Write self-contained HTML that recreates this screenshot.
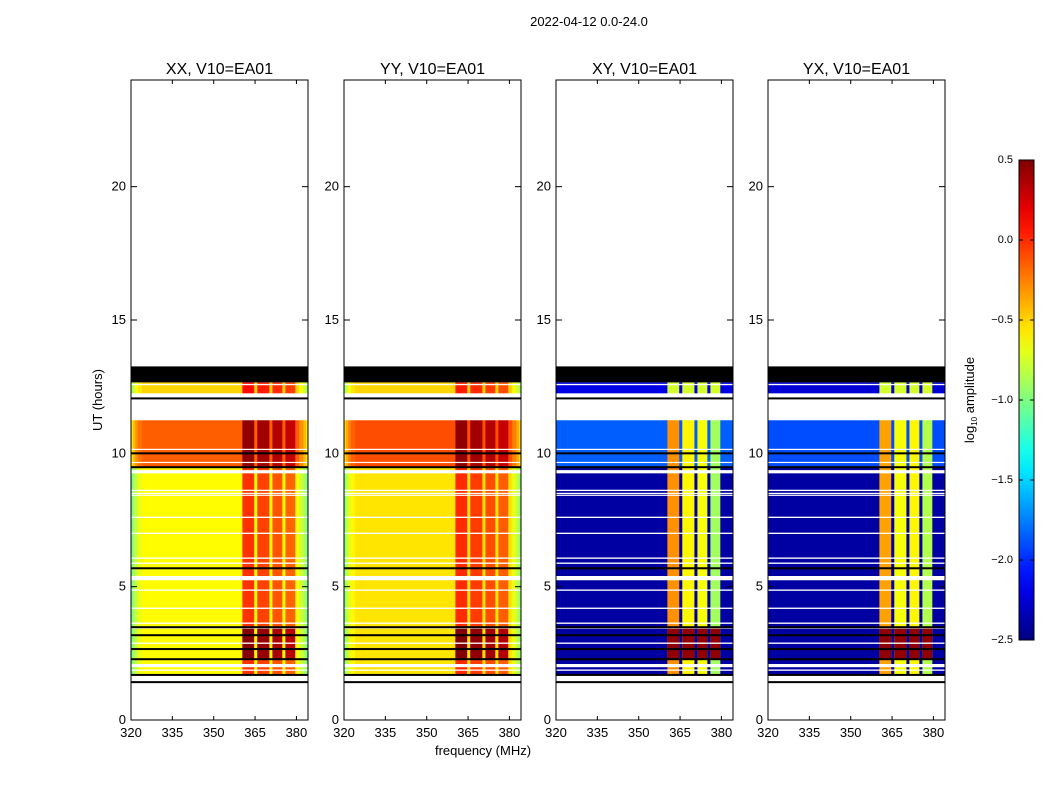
<!DOCTYPE html>
<html><head><meta charset="utf-8"><style>
body{margin:0;background:#fff;width:1050px;height:800px;overflow:hidden;font-family:"Liberation Sans",sans-serif;}
</style></head><body>
<svg id="fig" width="1050" height="800" xmlns="http://www.w3.org/2000/svg" font-family="Liberation Sans, sans-serif">
<text x="589" y="26" font-size="13" text-anchor="middle">2022-04-12 0.0-24.0</text>
<text x="483" y="755" font-size="13" text-anchor="middle">frequency (MHz)</text>
<text x="102" y="400" font-size="13" text-anchor="middle" transform="rotate(-90 102 400)">UT (hours)</text>
<g id="panels"></g>
<g id="cbar"></g>
</svg>
<script>
// ---- data ----
const panelTitles = ["XX, V10=EA01","YY, V10=EA01","XY, V10=EA01","YX, V10=EA01"];
const xTicks = [320,335,350,365,380];
const yTicks = [0,5,10,15,20];
const cbarTicks = [0.5,0.0,-0.5,-1.0,-1.5,-2.0,-2.5];
const cbarLabels = ["0.5","0.0","\u22120.5","\u22121.0","\u22121.5","\u22122.0","\u22122.5"];
// time bands [start hour, end hour]
const bandStart = [12.25, 9.48, 1.69];
const bandEnd   = [12.66, 11.24, 9.48];
const flagBand = [12.66, 13.26];
// band base levels per panel (log10 amplitude)
const levelXX = [-0.5,-0.15,-0.62];
const levelYY = [-0.5,-0.1,-0.55];
const levelXY = [-2.2,-1.85,-2.4];
const levelYX = [-2.25,-1.9,-2.4];
// RFI columns (MHz ranges)
const rfiStart = [360.4,365.8,371.3,376.0];
const rfiEnd   = [364.7,370.2,374.9,379.6];
const rfiXX = [0.6,0.55,0.5,0.45];
const rfiYY = [0.55,0.5,0.45,0.4];
const rfiXY = [-0.3,-0.6,-0.65,-0.9];
const rfiYX = [-0.35,-0.65,-0.6,-0.85];
const strongStart = 2.28, strongEnd = 3.48;
const strongVal = 0.45;
const whiteLines = [12.58,10.15,9.66,9.31,8.61,8.5,8.43,7.6,7.0,6.07,5.88,5.32,4.87,4.19,3.63,3.45,2.88,2.04,1.87,1.52];
const whiteWidth = [0.05,0.04,0.04,0.12,0.05,0.04,0.04,0.05,0.05,0.05,0.05,0.16,0.05,0.05,0.05,0.04,0.05,0.12,0.05,0.2];
const blackLines = [12.06,10.0,9.48,5.69,3.48,3.18,2.66,2.28,1.69,1.42];

const levels=[levelXX,levelYY,levelXY,levelYX];
const rfis=[rfiXX,rfiYY,rfiXY,rfiYX];
const panelX=[131,344,556,768], PW=177, PT=80, PH=640;
const fMin=320, fMax=384.2, tMax=24, vmin=-2.5, vmax=0.5;
const NS="http://www.w3.org/2000/svg";
function xs(f){return (f-fMin)/(fMax-fMin)*PW;}
function ys(h){return PH-h/tMax*PH;}
function jet(v){
  let x=(v-vmin)/(vmax-vmin); x=Math.max(0,Math.min(1,x));
  const c=t=>Math.round(255*Math.max(0,Math.min(1,t)));
  return `rgb(${c(1.5-Math.abs(4*x-3))},${c(1.5-Math.abs(4*x-2))},${c(1.5-Math.abs(4*x-1))})`;
}
function el(tag,attrs,parent){const e=document.createElementNS(NS,tag);for(const k in attrs)e.setAttribute(k,attrs[k]);parent.appendChild(e);return e;}
const root=document.getElementById('panels');
for(let p=0;p<4;p++){
  const g=el('g',{transform:`translate(${panelX[p]},${PT})`},root);
  
  
  const cross=p>=2;
  const edges=[fMin,320.7,321.5,322.5,324,360.4,364.7,365.8,370.2,371.3,374.9,376.0,379.6,381,382.5,383.5,fMax];
  for(let b=0;b<3;b++){
    const base=levels[p][b];
    for(let i=0;i<edges.length-1;i++){
      const f0=edges[i],f1=edges[i+1],fm=(f0+f1)/2;
      let v=base;
      let k=-1; for(let j=0;j<4;j++) if(fm>rfiStart[j]&&fm<rfiEnd[j]) k=j;
      if(!cross){
        if(fm<320.7||fm>383.5) v-=0.4; else if(fm<321.5||fm>382.5) v-=0.28;
        else if(fm<322.5||fm>381) v-=0.15; else if(fm<324) v-=0.06;
      }
      if(k>=0) v = cross ? (b===0? -0.75 : rfis[p][k]) : base+rfis[p][k];
      const t0=bandStart[b],t1=bandEnd[b];
      const r=el('rect',{x:xs(f0),y:ys(t1),width:xs(f1)-xs(f0)+0.3,height:ys(t0)-ys(t1),fill:jet(v)},g);
      
      
      if(k>=0 && b===2){
        const sv = cross? strongVal : base+rfis[p][k]+0.5;
        const s=el('rect',{x:xs(f0),y:ys(strongEnd),width:xs(f1)-xs(f0),height:ys(strongStart)-ys(strongEnd),fill:jet(sv)},g);
        
        
      }
    }
  }
  const fl=el('rect',{x:0,y:ys(flagBand[1]),width:PW,height:ys(flagBand[0])-ys(flagBand[1]),fill:'#000'},g);
  
  
  whiteLines.forEach((h,i)=>{
    const r=el('rect',{x:0,y:ys(h+whiteWidth[i]/2),width:PW,height:Math.max(1.2,whiteWidth[i]/tMax*PH),fill:'#fff'},g);
    
    
  });
  blackLines.forEach(h=>{
    const r=el('rect',{x:0,y:ys(h)-1,width:PW,height:2,fill:'#000'},g);
    
    
  });
  el('rect',{x:0,y:0,width:PW,height:PH,fill:'none',stroke:'#000','stroke-width':1},g);
  const t=el('text',{x:PW/2,y:-6,'font-size':16,'text-anchor':'middle'},g);t.textContent=panelTitles[p];
  
  
  xTicks.forEach(f=>{
    el('line',{x1:xs(f),x2:xs(f),y1:PH,y2:PH-4,stroke:'#000'},g);
    el('line',{x1:xs(f),x2:xs(f),y1:0,y2:4,stroke:'#000'},g);
    const tx=el('text',{x:xs(f),y:PH+17,'font-size':13,'text-anchor':'middle'},g);tx.textContent=f;
    
    
  });
  yTicks.forEach(h=>{
    el('line',{x1:0,x2:6,y1:ys(h),y2:ys(h),stroke:'#000'},g);
    el('line',{x1:PW,x2:PW-6,y1:ys(h),y2:ys(h),stroke:'#000'},g);
    const ty=el('text',{x:-5,y:ys(h)+4,'font-size':13,'text-anchor':'end'},g);ty.textContent=h;
    
    
  });
}
// colorbar
const cb=document.getElementById('cbar');
const CX=1019,CY=160,CW=15,CH=480;
const defs=el('defs',{},cb);
const lg=el('linearGradient',{id:'jetg',x1:0,y1:1,x2:0,y2:0},defs);
for(let i=0;i<=20;i++){el('stop',{offset:i/20,'stop-color':jet(vmin+(vmax-vmin)*i/20)},lg);}
el('rect',{x:CX,y:CY,width:CW,height:CH,fill:'url(#jetg)',stroke:'#000'},cb);
cbarTicks.forEach((v,i)=>{
  const y=CY+(vmax-v)/(vmax-vmin)*CH;
  el('line',{x1:CX,x2:CX+4,y1:y,y2:y,stroke:'#000'},cb);
  el('line',{x1:CX+CW,x2:CX+CW-4,y1:y,y2:y,stroke:'#000'},cb);
  const t=el('text',{x:1013,y:y+3,'font-size':11,'text-anchor':'end'},cb);t.textContent=cbarLabels[i];
  
  
});
const cl=el('text',{x:974,y:400,'font-size':13,'text-anchor':'middle',transform:'rotate(-90 974 400)'},cb);
cl.innerHTML='log<tspan font-size="8" dy="3">10</tspan><tspan dy="-3"> amplitude</tspan>';


</script>
</body></html>
